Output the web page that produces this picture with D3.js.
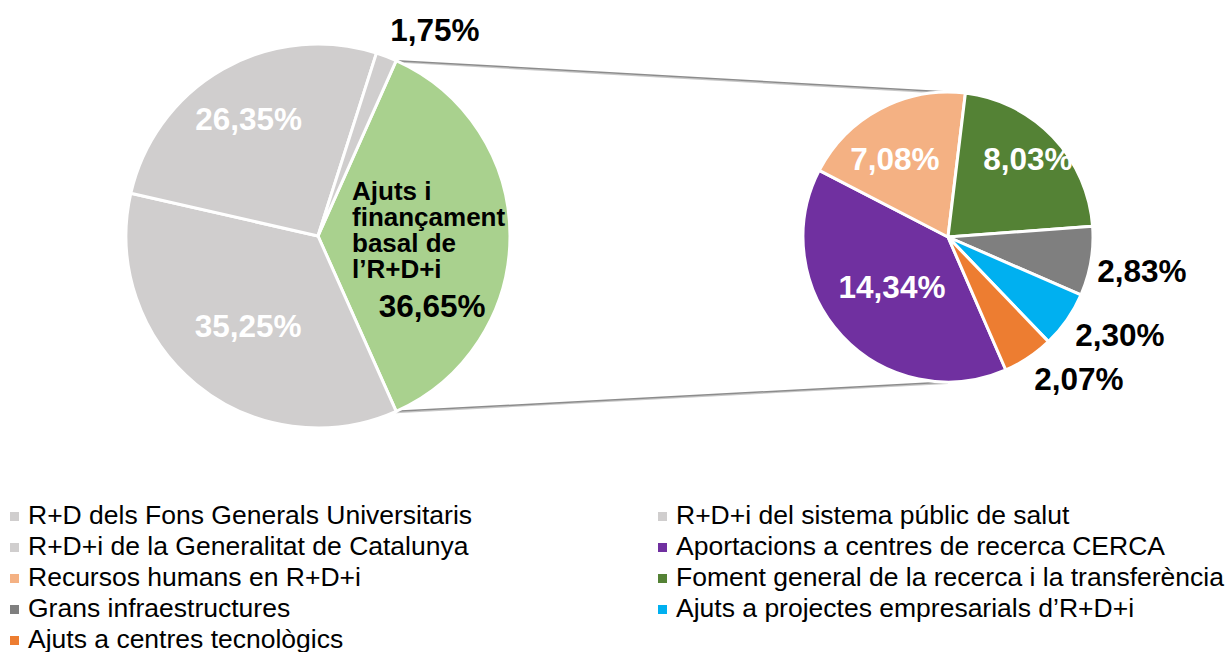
<!DOCTYPE html>
<html>
<head>
<meta charset="utf-8">
<script src="https://cdn.jsdelivr.net/npm/d3@7"></script>
<style>
  html, body { margin: 0; padding: 0; background: #fff; }
  svg { display: block; font-family: "Liberation Sans", Arial, sans-serif; }
</style>
</head>
<body>
<svg id="chart" width="1229" height="652"></svg>
<script>
// ---- data ----
const leftCategories = ["R+D dels Fons Generals Universitaris", "R+D+i del sistema públic de salut", "R+D+i de la Generalitat de Catalunya"];
const leftValues = [35.25, 26.35, 1.75];
const otherLabel = ["Ajuts i", "finançament", "basal de", "l’R+D+i"];
const rightCategories = ["Aportacions a centres de recerca CERCA", "Recursos humans en R+D+i", "Foment general de la recerca i la transferència", "Grans infraestructures", "Ajuts a projectes empresarials d’R+D+i", "Ajuts a centres tecnològics"];
const rightValues = [14.34, 7.08, 8.03, 2.83, 2.30, 2.07];

// ---- styling / layout ----
const leftColors = ["#d0cece", "#d0cece", "#d0cece"];
const otherColor = "#a9d18e";
const rightColors = ["#7030a0", "#f4b183", "#548235", "#7f7f7f", "#00b0f0", "#ed7d31"];
// label placement: radius factor and angle shift (deg) per slice, text colour
const leftLabelK = [0.594, 0.707, 1.234];
const leftLabelShift = [-1.6, -1, 8.7];
const leftLabelFill = ["#fff", "#fff", "#000"];
const otherLabelK = 0.697, otherLabelShift = 31.5;
const rightLabelK = [0.517, 0.65, 0.77, 1.358, 1.365, 1.332];
const rightLabelShift = [1.4, -6.4, -0.6, 0.2, -5.2, -9];
const rightLabelFill = ["#fff", "#fff", "#fff", "#000", "#000", "#000"];

const svg = d3.select("#chart");
const fmt = v => d3.format(".2f")(v).replace(".", ",") + "%";
const deg = Math.PI / 180;

const L = {cx: 318, cy: 236, r: 192};
const R = {cx: 948, cy: 237, r: 145};

const otherValue = d3.sum(rightValues);
const leftTotal = otherValue + d3.sum(leftValues);
const otherAngle = otherValue / leftTotal * 2 * Math.PI;
const leftStart = Math.PI / 2 - otherAngle / 2;

const leftData = [{v: otherValue, color: otherColor, other: true}]
  .concat(leftValues.map((v, i) => ({v, color: leftColors[i], i})));

const pieL = d3.pie().sort(null).value(d => d.v).startAngle(leftStart).endAngle(leftStart + 2 * Math.PI);
const arcsL = pieL(leftData);
const arcL = d3.arc().innerRadius(0).outerRadius(L.r);

const rightStart = 156.5 * deg;
const pieR = d3.pie().sort(null).value(d => d).startAngle(rightStart).endAngle(rightStart + 2 * Math.PI);
const arcsR = pieR(rightValues);
const arcR = d3.arc().innerRadius(0).outerRadius(R.r);

// polar helper (angle clockwise from 12 o'clock)
const polar = (c, a, r) => [c.cx + r * Math.sin(a), c.cy - r * Math.cos(a)];

// connector lines
const otherArc = arcsL[0];
const pTop = polar(L, otherArc.startAngle, L.r), pBot = polar(L, otherArc.endAngle, L.r);
const qTop = polar(R, 0, R.r), qBot = polar(R, Math.PI, R.r);
const lines = svg.append("g");
[[pTop, qTop], [pBot, qBot]].forEach(([p, q]) => {
  lines.append("line").attr("x1", p[0]).attr("y1", p[1] + 1.2).attr("x2", q[0]).attr("y2", q[1] + 1.2)
    .attr("stroke", "#c8c8c8").attr("stroke-width", 1.5);
  lines.append("line").attr("x1", p[0]).attr("y1", p[1]).attr("x2", q[0]).attr("y2", q[1])
    .attr("stroke", "#8c8c8c").attr("stroke-width", 1.5);
});

// left pie
const gL = svg.append("g").attr("transform", `translate(${L.cx},${L.cy})`);
gL.selectAll("path").data(arcsL).join("path")
  .attr("d", arcL).attr("fill", d => d.data.color)
  .attr("stroke", "#fff").attr("stroke-width", 3).attr("stroke-linejoin", "round");

// right pie
const gR = svg.append("g").attr("transform", `translate(${R.cx},${R.cy})`);
gR.selectAll("path").data(arcsR).join("path")
  .attr("d", arcR).attr("fill", (d, i) => rightColors[i])
  .attr("stroke", "#fff").attr("stroke-width", 3).attr("stroke-linejoin", "round");

const labelFont = 31.5;
function addLabel(c, a, k, text, fill) {
  const [x, y] = polar(c, a, k * c.r);
  svg.append("text").attr("x", x).attr("y", y + labelFont * 0.355)
    .attr("text-anchor", "middle").attr("font-size", labelFont).attr("font-weight", "bold")
    .attr("fill", fill).text(text);
}

// left labels
arcsL.forEach(d => {
  const mid = (d.startAngle + d.endAngle) / 2;
  if (d.data.other) {
    addLabel(L, mid + otherLabelShift * deg, otherLabelK, fmt(d.data.v), "#000");
  } else {
    const i = d.data.i;
    addLabel(L, mid + leftLabelShift[i] * deg, leftLabelK[i], fmt(d.data.v), leftLabelFill[i]);
  }
});
// category name inside the green slice
const nameText = svg.append("text").attr("x", L.cx + 34).attr("y", L.cy - 36)
  .attr("font-size", 26).attr("font-weight", "bold").attr("fill", "#000");
otherLabel.forEach((s, i) => nameText.append("tspan").attr("x", L.cx + 34).attr("dy", i === 0 ? 0 : 26).text(s));

// right labels
arcsR.forEach((d, i) => {
  const mid = (d.startAngle + d.endAngle) / 2;
  addLabel(R, mid + rightLabelShift[i] * deg, rightLabelK[i], fmt(d.data), rightLabelFill[i]);
});

// legend (row-wise, two columns)
const legendItems = leftCategories.map((c, i) => ({name: c, color: leftColors[i]}))
  .concat(rightCategories.map((c, i) => ({name: c, color: rightColors[i]})));
const legend = svg.append("g");
legendItems.forEach((d, i) => {
  const col = i % 2, row = Math.floor(i / 2);
  const x = 10 + col * 648, y = 524 + row * 31;
  legend.append("rect").attr("x", x).attr("y", y - 12).attr("width", 9).attr("height", 9).attr("fill", d.color);
  legend.append("text").attr("x", x + 18).attr("y", y).attr("font-size", 26.5).attr("fill", "#000").text(d.name);
});
</script>
</body>
</html>
